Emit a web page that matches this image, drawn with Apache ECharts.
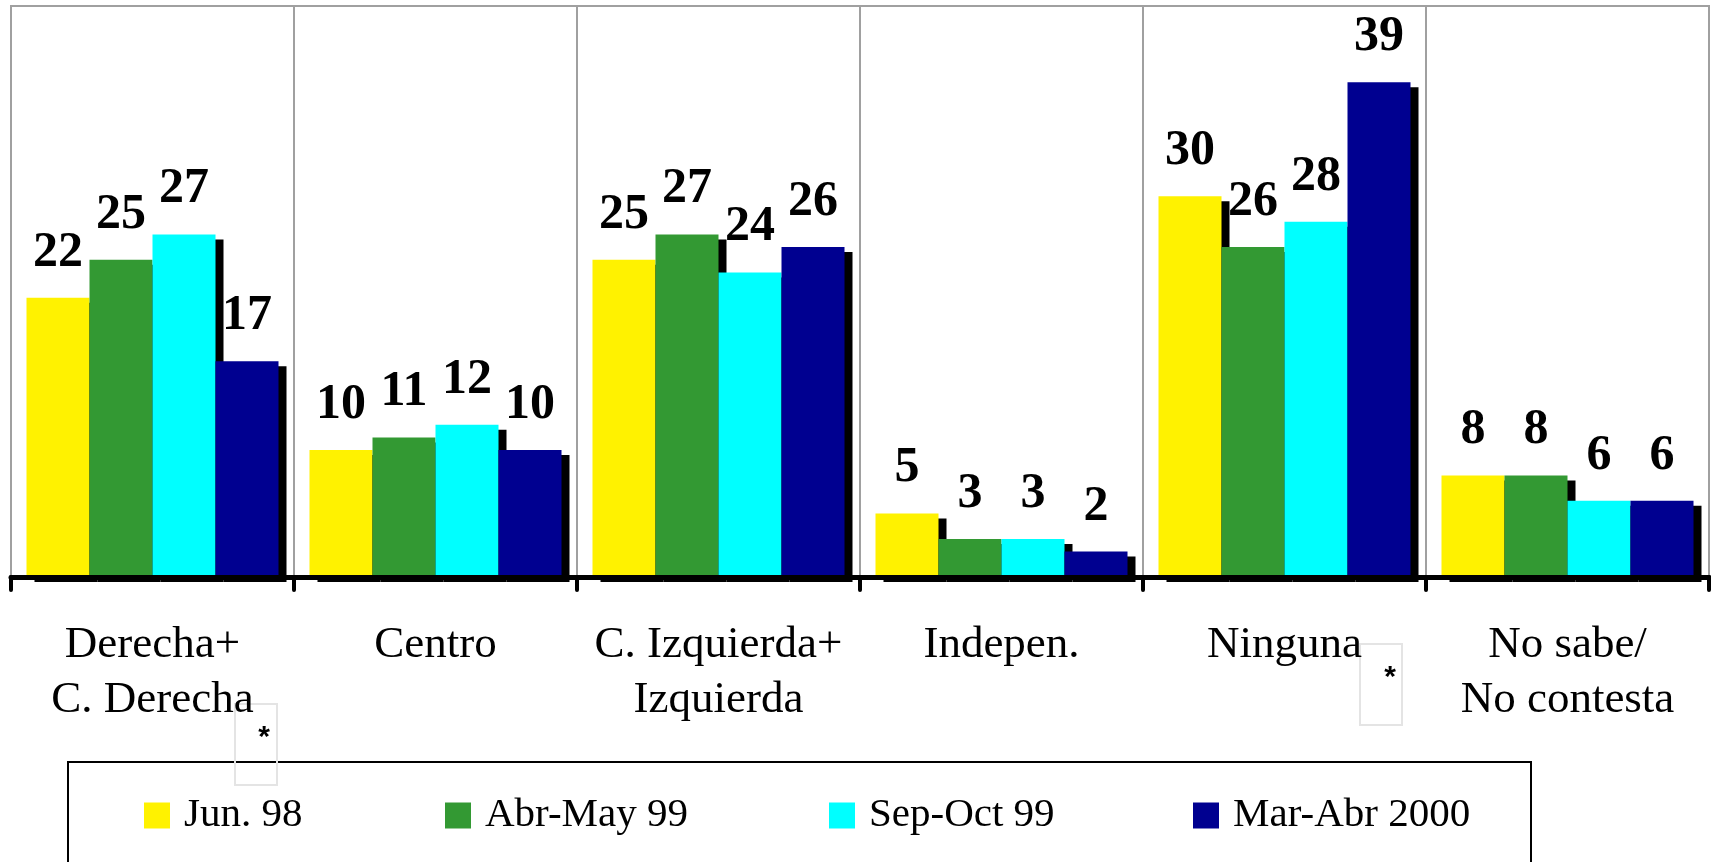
<!DOCTYPE html>
<html>
<head>
<meta charset="utf-8">
<script src="https://cdn.jsdelivr.net/npm/echarts@6/dist/echarts.min.js"></script>
<style>
  html, body { margin: 0; padding: 0; background: #fff; }
  #chart { width: 1711px; height: 862px; }
</style>
</head>
<body>
<div id="chart"></div>
<script>
// categories + one array per survey wave
const categories = ['Derecha+\nC. Derecha', 'Centro', 'C. Izquierda+\nIzquierda', 'Indepen.', 'Ninguna', 'No sabe/\nNo contesta'];
const seriesNames = ['Jun. 98', 'Abr-May 99', 'Sep-Oct 99', 'Mar-Abr 2000'];
const jun98 = [22, 10, 25, 5, 30, 8];
const abrMay99 = [25, 11, 27, 3, 26, 8];
const sepOct99 = [27, 12, 24, 3, 28, 6];
const marAbr2000 = [17, 10, 26, 2, 39, 6];

const colors = ['#FFF200', '#339933', '#00FFFF', '#000090'];
const serif = '"Liberation Serif", "Times New Roman", serif';

const chart = echarts.init(document.getElementById('chart'));

const values = [jun98, abrMay99, sepOct99, marAbr2000];
const series = values.map((data, i) => ({
  name: seriesNames[i],
  type: 'bar',
  data: data,
  barWidth: 63,
  barGap: '0%',
  itemStyle: {
    color: colors[i],
    shadowColor: '#000',
    shadowBlur: 0,
    shadowOffsetX: 8,
    shadowOffsetY: 5
  },
  label: {
    show: true,
    position: 'top',
    distance: 20,
    color: '#000',
    fontFamily: serif,
    fontWeight: 'bold',
    fontSize: 50
  }
}));

// one legend per entry so each sits where it does in the original
const legendLeft = [144, 445, 829, 1193];
const legends = seriesNames.map((name, i) => ({
  data: [name],
  left: legendLeft[i],
  top: 795,
  padding: 0,
  icon: 'rect',
  itemWidth: 26,
  itemHeight: 26,
  selectedMode: false,
  textStyle: {
    fontFamily: serif,
    fontSize: 41,
    lineHeight: 41,
    color: '#000',
    padding: [0, 0, 0, 9]
  }
}));

const option = {
  animation: false,
  backgroundColor: '#fff',
  color: colors,
  grid: {
    left: 11,
    right: 2,
    top: 6,
    bottom: 285,
    show: true,
    borderColor: '#a0a0a0',
    borderWidth: 2
  },
  legend: legends,
  xAxis: {
    type: 'category',
    data: categories,
    z: 10,
    offset: 2,
    axisLine: { lineStyle: { color: '#000', width: 5 } },
    axisTick: { show: true, length: 13, lineStyle: { color: '#000', width: 4, cap: 'round' } },
    splitLine: { show: true, lineStyle: { color: '#a0a0a0', width: 2 } },
    axisLabel: {
      interval: 0,
      margin: 39,
      color: '#000',
      fontFamily: serif,
      fontSize: 45,
      lineHeight: 55
    }
  },
  yAxis: {
    type: 'value',
    min: 0,
    max: 45,
    show: false,
    splitLine: { show: false }
  },
  graphic: [
    {
      type: 'rect',
      shape: { x: 68, y: 762, width: 1463, height: 200 },
      style: { fill: 'none', stroke: '#000', lineWidth: 2 }
    },
    {
      type: 'rect',
      shape: { x: 235, y: 704, width: 42, height: 81 },
      style: { fill: 'none', stroke: '#e4e4e4', lineWidth: 2 }
    },
    {
      type: 'text',
      x: 264, y: 738,
      style: { text: '*', fontSize: 30, fontWeight: 'bold', fontFamily: '"Liberation Sans", Arial, sans-serif', fill: '#000', align: 'center', verticalAlign: 'middle' }
    },
    {
      type: 'rect',
      shape: { x: 1360, y: 644, width: 42, height: 81 },
      style: { fill: 'none', stroke: '#e4e4e4', lineWidth: 2 }
    },
    {
      type: 'text',
      x: 1390, y: 678,
      style: { text: '*', fontSize: 30, fontWeight: 'bold', fontFamily: '"Liberation Sans", Arial, sans-serif', fill: '#000', align: 'center', verticalAlign: 'middle' }
    }
  ],
  series: series
};

chart.setOption(option);
</script>
</body>
</html>
